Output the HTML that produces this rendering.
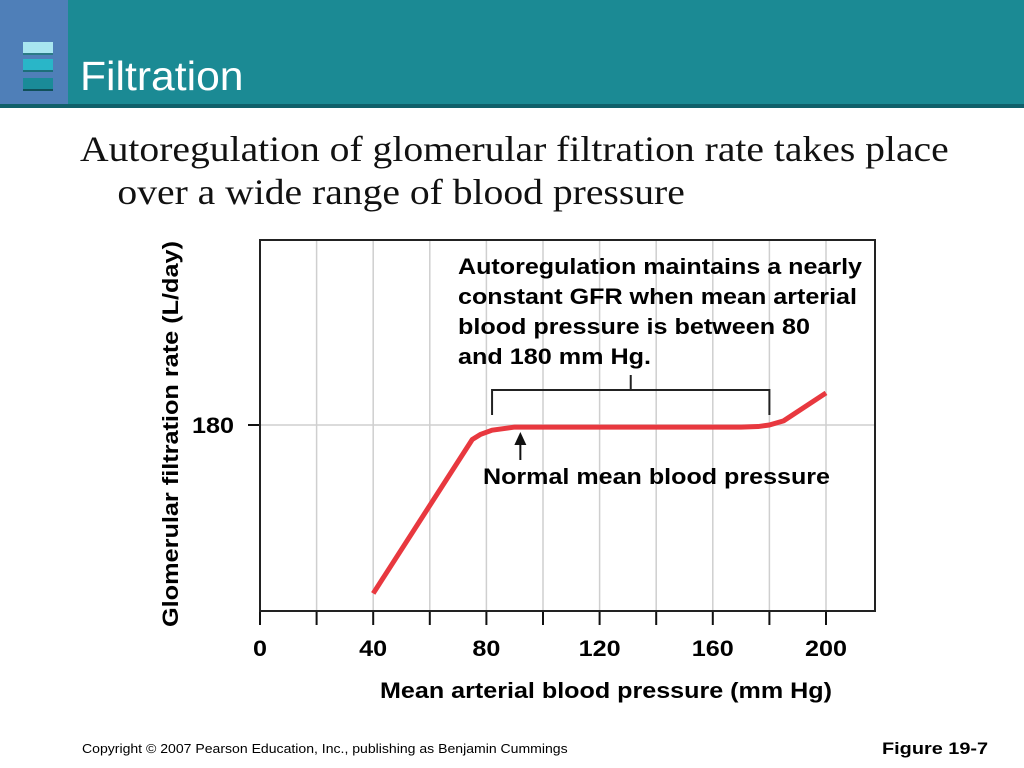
<!DOCTYPE html>
<html><head><meta charset="utf-8"><style>
body{margin:0;width:1024px;height:768px;position:relative;background:#fff;overflow:hidden;font-family:"Liberation Sans",sans-serif}
.abs{position:absolute;white-space:nowrap}
</style></head><body>
<div class="abs" style="left:0;top:0;width:1024px;height:104px;background:#1b8a94"></div>
<div class="abs" style="left:0;top:0;width:68px;height:104px;background:#4f7fb8"></div>
<div class="abs" style="left:0;top:104px;width:1024px;height:4px;background:#10606a"></div>
<div class="abs" style="left:23px;top:42px;width:30px;height:11px;background:#a8e6f0;border-bottom:2px solid #2a7a86"></div>
<div class="abs" style="left:23px;top:59px;width:30px;height:11px;background:#29b6c8;border-bottom:2px solid #1d6f7a"></div>
<div class="abs" style="left:23px;top:78px;width:30px;height:11px;background:#1a8b98;border-bottom:2px solid #10505a"></div>
<div class="abs" style="left:80px;top:53px;font-size:41px;line-height:46px;color:#fff;transform:scaleX(1.04);transform-origin:left">Filtration</div>
<div class="abs" style="left:80px;top:128px;font-family:'Liberation Serif',serif;font-size:36px;line-height:43px;color:#111;transform:scaleX(1.1);transform-origin:left">Autoregulation of glomerular filtration rate takes place<br><span style="padding-left:34px">over a wide range of blood pressure</span></div>
<svg class="abs" style="left:0;top:0" width="1024" height="768" id="chart"></svg>
<div class="abs" style="left:82px;top:741px;font-size:13px;transform:scaleX(1.08);transform-origin:left">Copyright © 2007 Pearson Education, Inc., publishing as Benjamin Cummings</div>
<div class="abs" style="left:882px;top:739px;font-size:17px;font-weight:bold;transform:scaleX(1.17);transform-origin:left">Figure 19-7</div>
<script>
const xTicks=[0,20,40,60,80,100,120,140,160,180,200];
const xLabels=[0,40,80,120,160,200];
const yTicks=[180];
const curveX=[40,75,78,82,90,130,170,176,180,185,200];
const curveY=[17,166,171,175,178,178,178,178.5,180,184,211];
const NS="http://www.w3.org/2000/svg";
const svg=document.getElementById('chart');
const L=260,R=875,T=240,B=611;
const sx=v=>L+v*2.83;
const sy=v=>B-v*(186/180);
function mk(tag,attrs,name){const e=document.createElementNS(NS,tag);for(const k in attrs)e.setAttribute(k,attrs[k]);


svg.appendChild(e);return e;}
xTicks.forEach(v=>{if(v>0)mk('line',{x1:sx(v),x2:sx(v),y1:T,y2:B,stroke:'#cfcfcf','stroke-width':1.5},'x-gridline');
mk('line',{x1:sx(v),x2:sx(v),y1:B,y2:B+14,stroke:'#111','stroke-width':2},'x-tick');});
yTicks.forEach(v=>{mk('line',{x1:L,x2:R,y1:sy(v),y2:sy(v),stroke:'#cfcfcf','stroke-width':1.5},'y-gridline');
mk('line',{x1:L-12,x2:L,y1:sy(v),y2:sy(v),stroke:'#111','stroke-width':2},'y-tick');
const t=mk('text',{x:L-26,y:sy(v)+8,'text-anchor':'end','font-size':22,'font-weight':'bold','font-family':'Liberation Sans',textLength:42,lengthAdjust:'spacingAndGlyphs'},'y-tick-label');t.textContent=v;});
mk('rect',{x:L,y:T,width:R-L,height:B-T,fill:'none',stroke:'#222','stroke-width':2},'plot-frame');
xLabels.forEach(v=>{const w=String(v).length*14;const t=mk('text',{x:sx(v),y:656,'text-anchor':'middle','font-size':22,'font-weight':'bold','font-family':'Liberation Sans',textLength:w,lengthAdjust:'spacingAndGlyphs'},'x-tick-label');t.textContent=v;});
const xt=mk('text',{x:380,y:698,'font-size':22,'font-weight':'bold','font-family':'Liberation Sans',textLength:452,lengthAdjust:'spacingAndGlyphs'},'x-axis-title');xt.textContent='Mean arterial blood pressure (mm Hg)';
const yt=mk('text',{x:0,y:0,'font-size':22,'font-weight':'bold','font-family':'Liberation Sans',textLength:386,lengthAdjust:'spacingAndGlyphs',transform:'translate(178,627) rotate(-90)'},'y-axis-title');yt.textContent='Glomerular filtration rate (L/day)';
const notes=['Autoregulation maintains a nearly','constant GFR when mean arterial','blood pressure is between 80','and 180 mm Hg.'];
const noteW=[404,399,352,193];
notes.forEach((s,i)=>{const t=mk('text',{x:458,y:274+i*30,'font-size':22,'font-weight':'bold','font-family':'Liberation Sans',textLength:noteW[i],lengthAdjust:'spacingAndGlyphs'},'annotation-line');t.textContent=s;});
mk('path',{d:`M${sx(82)} 415 V390 H${sx(180)} V415 M${(sx(82)+sx(180))/2} 390 V375`,fill:'none',stroke:'#222','stroke-width':2},'range-bracket');
let d='';curveX.forEach((v,i)=>{d+=(i?'L':'M')+sx(v)+' '+sy(curveY[i])+' ';});
mk('path',{d:d,fill:'none',stroke:'#e8383f','stroke-width':5,'stroke-linejoin':'round'},'gfr-curve');
mk('line',{x1:sx(92),x2:sx(92),y1:460,y2:443,stroke:'#111','stroke-width':2},'arrow-shaft');
mk('path',{d:`M${sx(92)-6} 445 L${sx(92)} 432 L${sx(92)+6} 445Z`,fill:'#111'},'arrow-head');
const nm=mk('text',{x:483,y:484,'font-size':22,'font-weight':'bold','font-family':'Liberation Sans',textLength:347,lengthAdjust:'spacingAndGlyphs'},'normal-pressure-label');nm.textContent='Normal mean blood pressure';
</script>
</body></html>
